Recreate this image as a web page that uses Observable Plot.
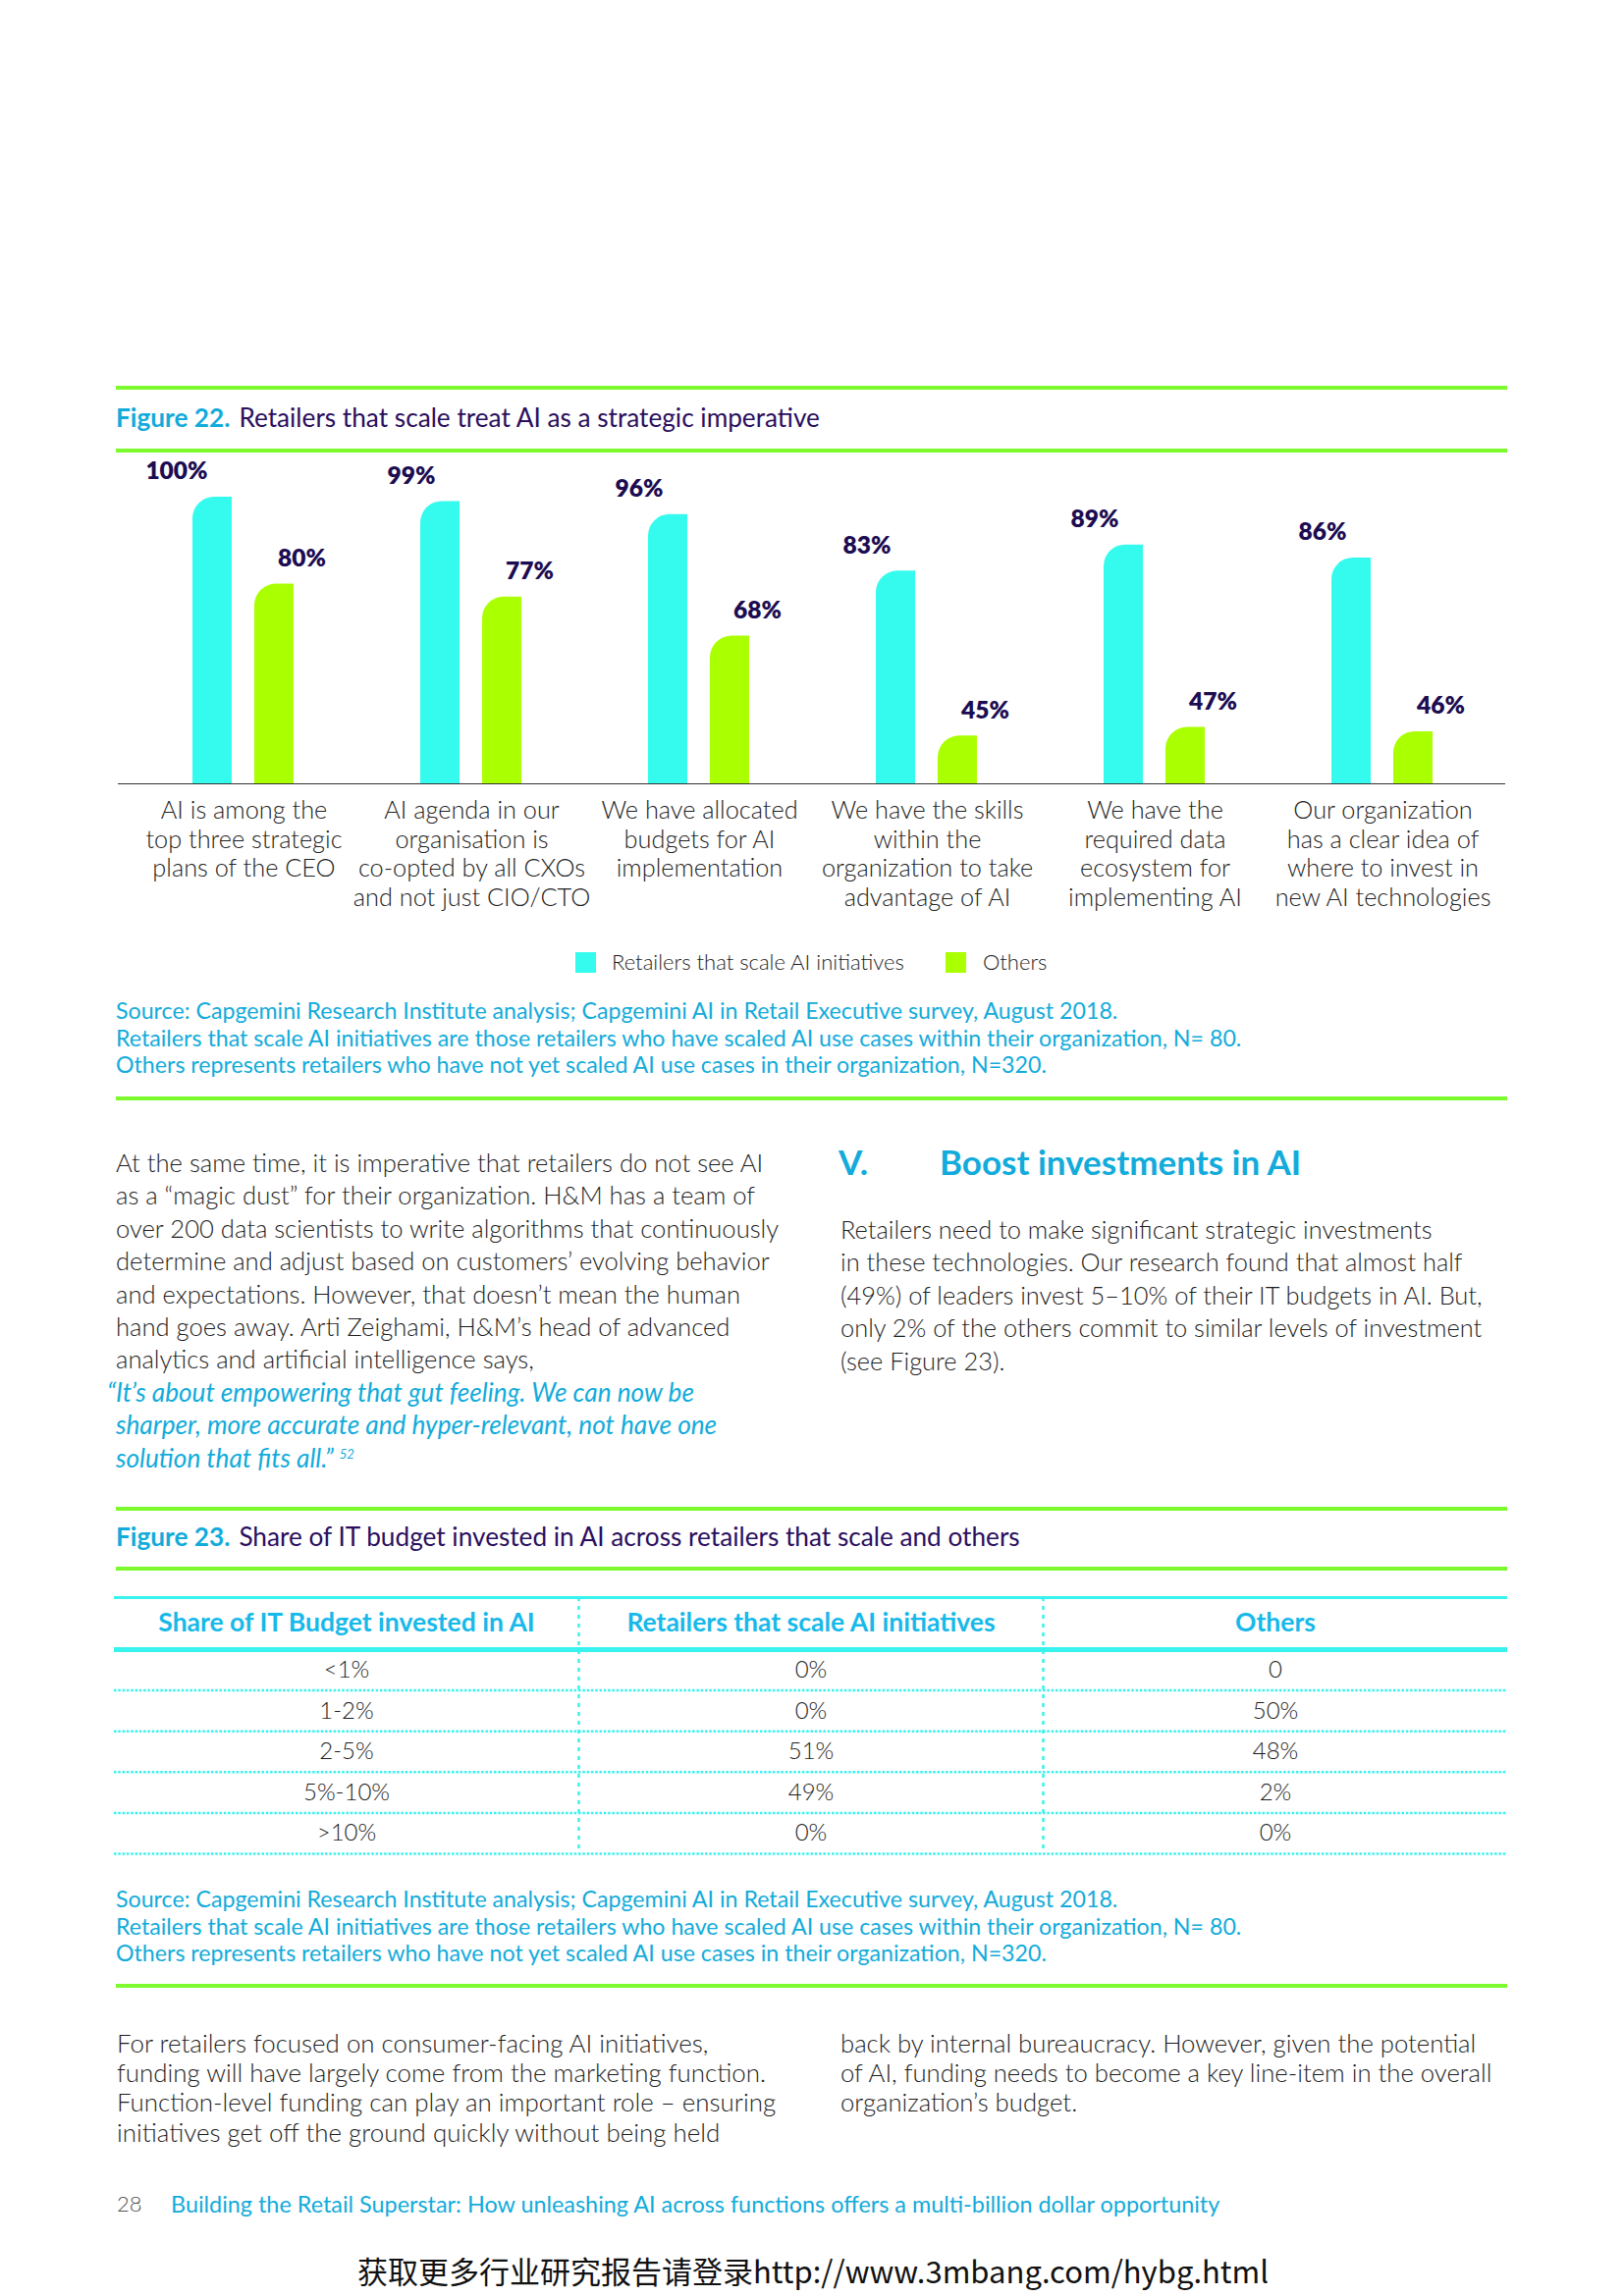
<!DOCTYPE html>
<html>
<head>
<meta charset="utf-8">
<script src="https://cdn.jsdelivr.net/npm/d3@7"></script>
<script src="https://cdn.jsdelivr.net/npm/@observablehq/plot@0.6"></script>
<style>
  html, body { margin: 0; padding: 0; background: #fff; }
  #page { position: relative; width: 1654px; height: 2339px; overflow: hidden; font-family: Lato, "Open Sans", sans-serif; color: #1d1d1d; }
  .abs { position: absolute; white-space: nowrap; }
  .gline { position: absolute; left: 118px; width: 1417px; height: 4px; background: #7cfa2e; }
  .body { font-weight: 300; font-size: 25.6px; line-height: 33.4px; color: #1d1d1d; }
  .src { font-weight: 400; font-size: 23.2px; line-height: 27.5px; color: #12abdb; }
  .ftitle { font-size: 26.2px; line-height: 30px; font-weight: 400; color: #2b0f5e; }
  .ftitle b { color: #12abdb; font-weight: 700; margin-right: 9px; }
  .quote { color: #12abdb; font-style: italic; font-weight: 400; font-size: 26.2px; }
  sup { font-size: 13px; line-height: 0; vertical-align: 9px; }
</style>
</head>
<body>
<div id="page"></div>
<script>
// ---------- data: Figure 22 ----------
const categories = [
  "AI is among the\ntop three strategic\nplans of the CEO",
  "AI agenda in our\norganisation is\nco-opted by all CXOs\nand not just CIO/CTO",
  "We have allocated\nbudgets for AI\nimplementation",
  "We have the skills\nwithin the\norganization to take\nadvantage of AI",
  "We have the\nrequired data\necosystem for\nimplementing AI",
  "Our organization\nhas a clear idea of\nwhere to invest in\nnew AI technologies"
];
const seriesNames = ["Retailers that scale AI initiatives", "Others"];
const scaleValues = [100, 99, 96, 83, 89, 86];
const otherValues = [80, 77, 68, 45, 47, 46];
const seriesColors = ["#35fbee", "#aaff00"];

// ---------- data: Figure 23 ----------
const tableColumns = ["Share of IT Budget invested in AI", "Retailers that scale AI initiatives", "Others"];
const shareBands = ["<1%", "1-2%", "2-5%", "5%-10%", ">10%"];
const scaleShare = ["0%", "0%", "51%", "49%", "0%"];
const othersShare = ["0", "50%", "48%", "2%", "0%"];

const page = document.getElementById("page");
function add(html, cls, style) {
  const d = document.createElement("div");
  d.className = "abs " + (cls || "");
  d.innerHTML = html;
  Object.assign(d.style, style);
  page.appendChild(d);
  return d;
}
function gline(top) { const d = document.createElement("div"); d.className = "gline"; d.style.top = top + "px"; page.appendChild(d); }

// ---------- Figure 22 header ----------
gline(393);
add("<b>Figure 22.</b>Retailers that scale treat AI as a strategic imperative", "ftitle", {left: "118px", top: "410px"});
gline(457);

// ---------- Figure 22 chart ----------
const floor = 34;
const barData = [];
categories.forEach((c, i) => {
  barData.push({category: c, series: seriesNames[0], value: scaleValues[i]});
  barData.push({category: c, series: seriesNames[1], value: otherValues[i]});
});
const labelStyle = {fontSize: 24.5, fontWeight: 800, fill: "#1c0c52"};
const chart = Plot.plot({
  width: 1654, height: 488,
  marginLeft: 130, marginRight: 128, marginTop: 46, marginBottom: 150,
  style: {fontFamily: "Lato, sans-serif", background: "transparent", overflow: "visible"},
  fx: {domain: categories, padding: 0, axis: null, label: null},
  x: {domain: seriesNames, paddingInner: 0.36, paddingOuter: 1.0, axis: null},
  y: {domain: [floor, 100], axis: null},
  color: {domain: seriesNames, range: seriesColors},
  marks: [
    Plot.barY(barData, {fx: "category", x: "series", y1: floor, y2: "value", fill: "series"}),
    Plot.ruleY([floor], {insetLeft: -12, insetRight: -9, stroke: "#333", strokeWidth: 1.5, shapeRendering: "crispEdges"}),
    Plot.text(barData.filter(d => d.series === seriesNames[0]), {fx: "category", x: "series", y: "value", text: d => d.value + "%", textAnchor: "end", dx: -5, dy: -26, ...labelStyle}),
    Plot.text(barData.filter(d => d.series === seriesNames[1]), {fx: "category", x: "series", y: "value", text: d => d.value + "%", dx: 28, dy: -26, ...labelStyle}),
    Plot.text(categories, {fx: d => d, text: d => d, frameAnchor: "bottom", lineAnchor: "top", dy: 14, lineHeight: 1.18, fontSize: 25.3, fontWeight: 300, fill: "#222"})
  ]
});
// round the top-left corner of every bar
chart.querySelectorAll('g[aria-label="bar"] rect').forEach(r => {
  const x = +r.getAttribute("x"), y = +r.getAttribute("y"), w = +r.getAttribute("width"), h = +r.getAttribute("height");
  const rr = Math.min(22, w, h);
  const p = document.createElementNS("http://www.w3.org/2000/svg", "path");
  for (const a of r.attributes) if (!["x", "y", "width", "height"].includes(a.name)) p.setAttribute(a.name, a.value);
  p.setAttribute("d", `M${x},${y + h}V${y + rr}A${rr},${rr} 0 0 1 ${x + rr},${y}H${x + w}V${y + h}Z`);
  r.replaceWith(p);
});
const chartWrap = add("", "", {left: "0px", top: "460px"});
chartWrap.appendChild(chart);

// legend
add("", "", {left: "586px", top: "970px", width: "21px", height: "21px", background: seriesColors[0]});
add(seriesNames[0], "body", {left: "623px", top: "963px", lineHeight: "33px", fontSize: "22px"});
add("", "", {left: "963px", top: "970px", width: "21px", height: "21px", background: seriesColors[1]});
add(seriesNames[1], "body", {left: "1001px", top: "963px", lineHeight: "33px", fontSize: "22px"});

const srcHtml = "Source: Capgemini Research Institute analysis; Capgemini AI in Retail Executive survey, August 2018.<br>Retailers that scale AI initiatives are those retailers who have scaled AI use cases within their organization, N= 80.<br>Others represents retailers who have not yet scaled AI use cases in their organization, N=320.";
add(srcHtml, "src", {left: "118px", top: "1016px"});
gline(1117);

// ---------- text columns ----------
add("At the same time, it is imperative that retailers do not see AI<br>as a “magic dust” for their organization. H&amp;M has a team of<br>over 200 data scientists to write algorithms that continuously<br>determine and adjust based on customers’ evolving behavior<br>and expectations. However, that doesn’t mean the human<br>hand goes away. Arti Zeighami, H&amp;M’s head of advanced<br>analytics and artificial intelligence says,<br><span class='quote' style='margin-left:-9px'>“It’s about empowering that gut feeling. We can now be</span><br><span class='quote'>sharper, more accurate and hyper-relevant, not have one</span><br><span class='quote'>solution that fits all.” <sup>52</sup></span>", "body", {left: "118px", top: "1168px"});

add("V.", "", {left: "854px", top: "1163px", fontSize: "35px", lineHeight: "40px", fontWeight: 700, color: "#12abdb"});
add("Boost investments in AI", "", {left: "957px", top: "1163px", fontSize: "35px", lineHeight: "40px", fontWeight: 700, color: "#12abdb"});
add("Retailers need to make significant strategic investments<br>in these technologies. Our research found that almost half<br>(49%) of leaders invest 5–10% of their IT budgets in AI. But,<br>only 2% of the others commit to similar levels of investment<br>(see Figure 23).", "body", {left: "856px", top: "1236px", fontSize: "25.4px"});

// ---------- Figure 23 ----------
gline(1535);
add("<b>Figure 23.</b>Share of IT budget invested in AI across retailers that scale and others", "ftitle", {left: "118px", top: "1550px"});
gline(1596);

const cells = [];
shareBands.forEach((b, i) => {
  [b, scaleShare[i], othersShare[i]].forEach((v, j) => cells.push({row: i, col: j, text: v}));
});
const cyanLine = "#38f2ee";
const table = Plot.plot({
  width: 1654, height: 284,
  marginLeft: 116, marginRight: 119, marginTop: 70, marginBottom: 6,
  style: {fontFamily: "Lato, sans-serif", background: "transparent", overflow: "visible"},
  x: {domain: [0, tableColumns.length], axis: null},
  y: {domain: [0, shareBands.length], range: [70, 278], axis: null},
  marks: [
    Plot.ruleY(shareBands, {y: (d, i) => i + 1, stroke: cyanLine, strokeWidth: 2.5, strokeDasharray: "2.5 1.8"}),
    Plot.ruleX(tableColumns.slice(1), {x: (d, i) => i + 1, insetTop: -53, stroke: cyanLine, strokeWidth: 2.5, strokeDasharray: "4 5"}),
    Plot.ruleY([0], {stroke: cyanLine, strokeWidth: 5}),
    Plot.ruleY([0], {dy: -53, stroke: cyanLine, strokeWidth: 3}),
    Plot.text(tableColumns, {x: (d, i) => i + 0.5, frameAnchor: "top", dy: -37, text: d => d, fontSize: 26.5, fontWeight: 700, fill: "#16b9ea"}),
    Plot.text(cells, {x: d => d.col + 0.5, y: d => d.row + 0.5, text: "text", fontSize: 24, fontWeight: 300, fill: "#1d1d1d"})
  ]
});
const tableWrap = add("", "", {left: "0px", top: "1610px"});
tableWrap.appendChild(table);

add(srcHtml, "src", {left: "118px", top: "1921px"});
gline(2021);

add("For retailers focused on consumer-facing AI initiatives,<br>funding will have largely come from the marketing function.<br>Function-level funding can play an important role – ensuring<br>initiatives get off the ground quickly without being held", "body", {left: "119px", top: "2066px", lineHeight: "30.2px", fontSize: "25.9px"});
add("back by internal bureaucracy. However, given the potential<br>of AI, funding needs to become a key line-item in the overall<br>organization’s budget.", "body", {left: "856px", top: "2066px", lineHeight: "30.2px", fontSize: "25.7px"});

// ---------- footer ----------
add("28", "", {left: "119px", top: "2231px", fontSize: "22px", lineHeight: "28px", color: "#555", fontWeight: 300});
add("Building the Retail Superstar: How unleashing AI across functions offers a multi-billion dollar opportunity", "src", {left: "174px", top: "2231px", lineHeight: "28px", fontSize: "23.4px"});
add("获取更多行业研究报告请登录http://www.3mbang.com/hybg.html", "", {left: "364px", top: "2292px", fontSize: "31px", lineHeight: "42px", color: "#111", fontFamily: "'Noto Sans CJK SC', sans-serif"});
</script>
</body>
</html>
